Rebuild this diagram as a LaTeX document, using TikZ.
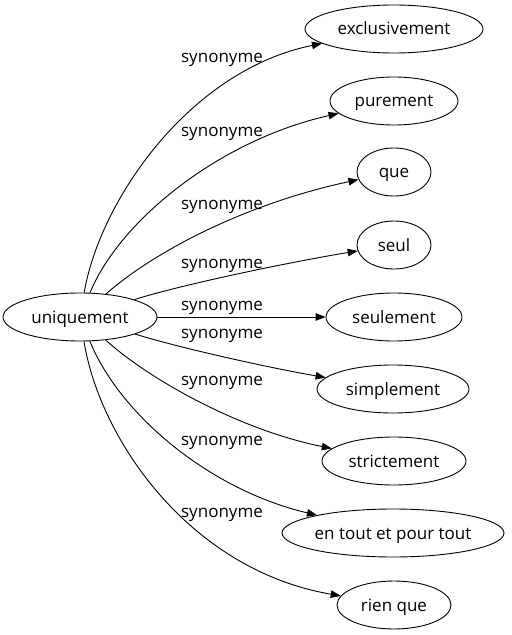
\documentclass[tikz,border=0pt]{standalone}
\usepackage{fontspec}
\setmainfont{Open Sans}
\usetikzlibrary{shapes.geometric,arrows.meta}
\begin{document}
\begin{tikzpicture}[x=1bp,y=-1bp,
  word/.style={draw, ellipse, inner sep=0pt, minimum height=48bp, line width=0.9bp, text height=12bp, text depth=0bp, font=\fontsize{17bp}{20bp}\selectfont},
  lab/.style={inner sep=0pt, font=\fontsize{17bp}{20bp}\selectfont},
  syn/.style={line width=0.9bp, -{Triangle[length=10bp,width=7.5bp]}}]
\useasboundingbox (0,0) rectangle (512,635);
\node[word, minimum width=154bp] (u) at (80,317) {uniquement};
\node[word, minimum width=178bp] (ex) at (394,29) {exclusivement};
\node[word, minimum width=128bp] (pu) at (394,101) {purement};
\node[word, minimum width=74bp] (qu) at (394,172) {que};
\node[word, minimum width=74bp] (se) at (394,245) {seul};
\node[word, minimum width=136bp] (sl) at (394,317) {seulement};
\node[word, minimum width=152bp] (si) at (393,389) {simplement};
\node[word, minimum width=144bp] (st) at (394,461) {strictement};
\node[word, minimum width=222bp] (et) at (393,533) {en tout et pour tout};
\node[word, minimum width=114bp] (rq) at (394,605) {rien que};
\node[lab] (l1) at (222,60) {synonyme};
\node[lab] (l2) at (222,134) {synonyme};
\node[lab] (l3) at (222,207) {synonyme};
\node[lab] (l4) at (222,266) {synonyme};
\node[lab] (l5) at (222,308) {synonyme};
\node[lab] (l6) at (222,336) {synonyme};
\node[lab] (l7) at (222,383) {synonyme};
\node[lab] (l8) at (222,443) {synonyme};
\node[lab] (l9) at (222,515) {synonyme};
\draw[syn] (u) .. controls (100,200) and (190,70) .. (ex);
\draw[syn] (u) .. controls (120,220) and (220,140) .. (pu);
\draw[syn] (u) .. controls (150,255) and (240,205) .. (qu);
\draw[syn] (u) .. controls (180,285) and (290,262) .. (se);
\draw[syn] (u) -- (sl);
\draw[syn] (u) .. controls (180,348) and (270,368) .. (si);
\draw[syn] (u) .. controls (150,380) and (240,430) .. (st);
\draw[syn] (u) .. controls (120,415) and (210,490) .. (et);
\draw[syn] (u) .. controls (100,440) and (190,570) .. (rq);
\end{tikzpicture}
\end{document}
